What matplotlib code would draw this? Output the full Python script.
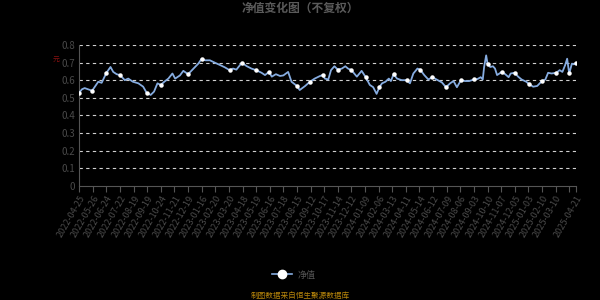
import matplotlib
matplotlib.use("Agg")
import matplotlib.pyplot as plt
from matplotlib.lines import Line2D

plt.rcParams['font.family'] = ['Noto Sans CJK SC', 'DejaVu Sans']

# trading-day index -> NAV value
day_idx = [0, 4, 8, 13, 19, 23, 28, 33, 40, 46, 50, 55, 60, 67, 72, 79, 87, 94, 99, 105,
           110, 115, 120, 125, 131, 137, 141, 148, 153, 160, 168, 175, 180,
           185, 192, 199, 207, 214, 221, 226, 231, 239, 246, 253, 260, 268, 273, 279,
           283, 289, 295, 300, 307, 312, 320, 324, 332, 339, 346, 354, 358,
           361, 366, 370, 375, 380, 386, 391, 395, 400, 408, 415, 421, 427, 432, 437,
           441, 445, 450, 455, 458, 462, 467, 474, 481, 486, 491, 497, 501, 507, 513,
           519, 525, 533, 539, 545, 550, 555, 561, 567, 573, 580, 585, 590, 593, 595,
           598, 600, 604, 608, 611, 614, 621, 626, 631, 634, 640, 645, 650, 657, 661,
           667, 673, 680, 685, 689, 694, 701, 706, 710, 714, 717, 720, 724, 727, 730]
nav = [0.529, 0.548, 0.555, 0.548, 0.540, 0.563, 0.591, 0.585, 0.642, 0.675, 0.647, 0.634,
       0.629, 0.600, 0.609, 0.591, 0.582, 0.563, 0.529, 0.516,
       0.535, 0.582, 0.573, 0.591, 0.609, 0.638, 0.609, 0.627, 0.653, 0.634, 0.666, 0.694, 0.722,
       0.713, 0.713, 0.700, 0.686, 0.673, 0.657, 0.666, 0.660, 0.699, 0.680, 0.666, 0.657,
       0.642, 0.629, 0.647, 0.620, 0.634, 0.624, 0.627, 0.647, 0.591, 0.567, 0.544,
       0.567, 0.591, 0.609, 0.624, 0.629,
       0.609, 0.604, 0.657, 0.679, 0.660, 0.666, 0.679, 0.666, 0.657, 0.620, 0.653, 0.617,
       0.573, 0.560, 0.522,
       0.560, 0.582, 0.591, 0.609, 0.595, 0.634, 0.609, 0.600, 0.600, 0.582, 0.638, 0.666,
       0.660, 0.629, 0.604,
       0.617, 0.604, 0.587, 0.560, 0.582, 0.595, 0.560, 0.600, 0.595, 0.595, 0.604, 0.606,
       0.617, 0.604, 0.675,
       0.741, 0.694, 0.675, 0.679, 0.666, 0.629, 0.647, 0.634, 0.617, 0.638, 0.642, 0.620,
       0.604, 0.591, 0.578,
       0.563, 0.567, 0.595, 0.604, 0.642, 0.638, 0.642, 0.657, 0.647, 0.685, 0.722, 0.638,
       0.694, 0.690, 0.698]

tick_pos = list(range(0, 721, 20)) + [730]
tick_labels = ["2022-04-25", "2022-05-26", "2022-06-24", "2022-07-22", "2022-08-19",
               "2022-09-19", "2022-10-24", "2022-11-21", "2022-12-19",
               "2023-01-16", "2023-02-20", "2023-03-20", "2023-04-18", "2023-05-19",
               "2023-06-16", "2023-07-18", "2023-08-15", "2023-09-12", "2023-10-17",
               "2023-11-14", "2023-12-12",
               "2024-01-09", "2024-02-06", "2024-03-13", "2024-04-11", "2024-05-14",
               "2024-06-12", "2024-07-09", "2024-08-06", "2024-09-03", "2024-10-10",
               "2024-11-07", "2024-12-05",
               "2025-01-03", "2025-02-10", "2025-03-10", "", "2025-04-21"]
y_ticks = [0, 0.1, 0.2, 0.3, 0.4, 0.5, 0.6, 0.7, 0.8]
y_tick_labels = ["0", "0.1", "0.2", "0.3", "0.4", "0.5", "0.6", "0.7", "0.8"]

# trading days where a white marker is shown
marker_days = [0, 19, 40, 60, 99, 120, 160, 180, 221, 239, 260, 279, 320, 339, 358,
               380, 400, 421, 441, 462, 481, 501, 519, 539, 560, 580, 600, 621, 640,
               661, 680, 701, 720, 730]

n = min(len(day_idx), len(nav))
day_idx, nav = day_idx[:n], nav[:n]
marker_points = sorted({min(range(n), key=lambda i: abs(day_idx[i] - d)) for d in marker_days})

fig = plt.figure(figsize=(6, 3), dpi=100, facecolor='black')
ax = fig.add_axes([0.132, 0.381, 0.828, 0.469], facecolor='black')

line_color = '#86ace0'
ax.plot(day_idx, nav, color=line_color, lw=1.3, zorder=3,
        marker='o', markevery=marker_points, markersize=2.2,
        markerfacecolor='white', markeredgecolor='white')

ax.set_xlim(0, 730)
ax.set_ylim(0, 0.8)
ax.set_yticks(y_ticks)
ax.set_yticklabels(y_tick_labels)
ax.set_xticks(tick_pos)
ax.set_xticklabels(tick_labels, rotation=60, ha='right', rotation_mode='anchor')

for v in y_ticks[1:]:
    ax.axhline(v, color='#d0d0d0', lw=0.8, ls=(0, (3, 3)), zorder=1)

for s in ['top', 'right']:
    ax.spines[s].set_visible(False)
ax.spines['left'].set_color('#555555')
ax.spines['bottom'].set_color('#555555')
ax.tick_params(axis='x', colors='#555555', labelcolor='#4a4a4a', labelsize=6.5,
               length=4, width=0.8, pad=2)
ax.tick_params(axis='y', colors='#555555', labelcolor='#4a4a4a', labelsize=7,
               length=0, pad=3)

fig.text(0.5, 0.972, "净值变化图（不复权）", ha='center', va='center',
         fontsize=8.5, fontweight='bold', color='#5a5a5a')
fig.text(0.094, 0.80, "元", ha='center', va='center', fontsize=5, color='#8b1010')

# legend
leg_handle = Line2D([0], [0], color=line_color, lw=1.2, marker='o', markersize=6,
                    markerfacecolor='white', markeredgecolor='white')
fig.legend([leg_handle], ["净值"], loc='center', bbox_to_anchor=(0.49, 0.083),
           frameon=False, fontsize=6.5, labelcolor='#555555', handlelength=2.2,
           handletextpad=0.6)

fig.text(0.5, 0.015, "制图数据来自恒生聚源数据库", ha='center', va='center',
         fontsize=5.5, color='#b8860b')

fig.savefig("out.png", dpi=100, facecolor='black')
